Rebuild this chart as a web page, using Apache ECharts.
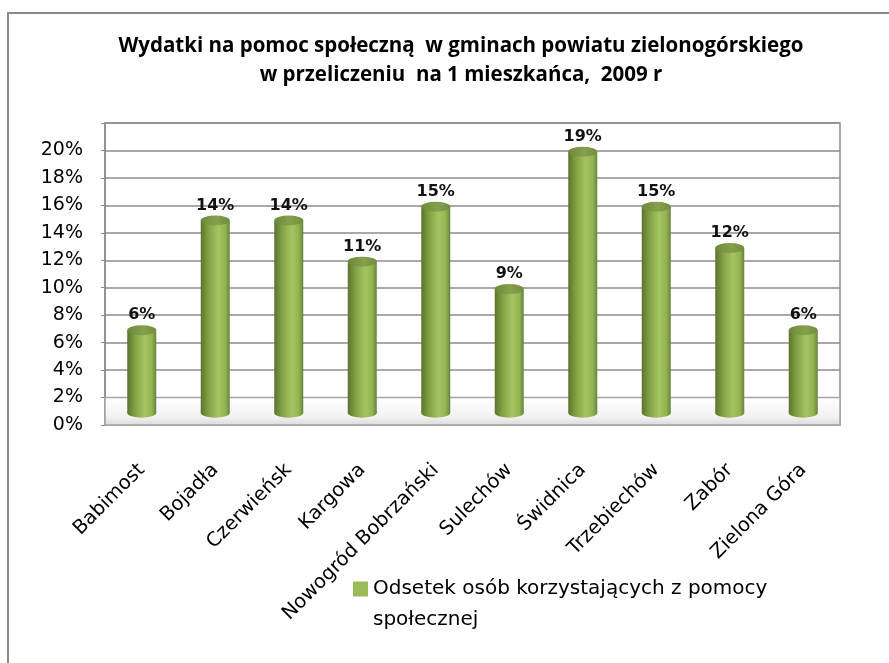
<!DOCTYPE html>
<html lang="pl">
<head>
  <meta charset="UTF-8">
  <title>Wydatki na pomoc społeczną</title>
  <script src="https://cdn.jsdelivr.net/npm/echarts@6/dist/echarts.min.js"></script>
  <style>
    html, body { margin: 0; padding: 0; background: #fff; }
    #chart { width: 889px; height: 663px; }
  </style>
</head>
<body>
  <div id="chart"></div>
  <script>
    // dane z wykresu
    const gminy = ['Babimost', 'Bojadła', 'Czerwieńsk', 'Kargowa', 'Nowogród Bobrzański',
      'Sulechów', 'Świdnica', 'Trzebiechów', 'Zabór', 'Zielona Góra'];
    const odsetek = [6, 14, 14, 11, 15, 9, 19, 15, 12, 6];
    const seriaNazwa = 'Odsetek osób korzystających z pomocy społecznej';
    const tytul = 'Wydatki na pomoc społeczną  w gminach powiatu zielonogórskiego\nw przeliczeniu  na 1 mieszkańca,  2009 r';

    const font = 'DejaVu Sans, sans-serif';
    const fontTitle = 'Open Sans, sans-serif';

    // gradient walca
    const cylinder = new echarts.graphic.LinearGradient(0, 0, 1, 0, [
      { offset: 0, color: '#5a742c' },
      { offset: 0.25, color: '#7f9f43' },
      { offset: 0.6, color: '#a5c563' },
      { offset: 0.85, color: '#93b351' },
      { offset: 1, color: '#66833a' }
    ]);

    const chart = echarts.init(document.getElementById('chart'));

    const option = {
      backgroundColor: '#fff',
      title: {
        text: tytul,
        left: 456,
        top: 27,
        textAlign: 'center',
        textStyle: {
          fontFamily: fontTitle,
          fontSize: 20.5,
          fontWeight: 'bold',
          color: '#000',
          lineHeight: 29
        }
      },
      legend: {
        data: [seriaNazwa],
        left: 353,
        top: 548,
        padding: 0,
        icon: 'rect',
        itemWidth: 15,
        itemHeight: 15,
        formatter: function (n) {
          const i = n.lastIndexOf(' ');
          return '{e| }\n{t|' + n.slice(0, i) + '}\n{t|' + n.slice(i + 1) + '}';
        },
        textStyle: {
          fontFamily: font,
          fontSize: 20,
          color: '#000',
          rich: {
            e: { fontSize: 20, lineHeight: 31 },
            t: { fontFamily: font, fontSize: 20, lineHeight: 31, color: '#000' }
          }
        }
      },
      grid: {
        left: 105,
        right: 49,
        top: 123,
        bottom: 238,
        show: true,
        borderColor: '#8c8c8c',
        borderWidth: 1.5
      },
      xAxis: {
        type: 'category',
        data: gminy,
        axisLine: { lineStyle: { color: '#9a9a9a', width: 1.5 } },
        axisTick: { length: 7, lineStyle: { color: '#9a9a9a' } },
        axisLabel: {
          rotate: 45,
          margin: 42,
          fontFamily: font,
          fontSize: 19.5,
          color: '#000'
        }
      },
      yAxis: [{
        type: 'value',
        min: 0,
        max: 22,
        interval: 2,
        axisLine: { show: true, lineStyle: { color: '#8c8c8c', width: 1.5 } },
        axisTick: { show: true, length: 4, lineStyle: { color: '#8c8c8c' } },
        splitLine: { lineStyle: { color: '#8c8c8c', width: 1.5 } },
        axisLabel: {
          fontFamily: font,
          fontSize: 19,
          color: '#000',
          margin: 22,
          padding: [7, 0, 0, 0],
          formatter: function (v) { return v > 20 ? '' : v + '%'; }
        }
      }, {
        // oś pomocnicza: walce stoją na "podłodze" wykresu 3D
        type: 'value',
        min: -0.9,
        max: 21.1,
        show: false,
        splitLine: { show: false }
      }],
      series: [{
        // kolor w legendzie + podłoga wykresu
        name: seriaNazwa,
        type: 'bar',
        yAxisIndex: 0,
        data: [],
        z: 0,
        itemStyle: { color: '#9bbb59' },
        markArea: {
          silent: true,
          itemStyle: {
            color: new echarts.graphic.LinearGradient(0, 0, 0, 1, [
              { offset: 0, color: '#ffffff' },
              { offset: 0.7, color: '#f2f2f2' },
              { offset: 1, color: '#d9d9d9' }
            ]),
            borderColor: '#a6a6a6',
            borderWidth: 1.5
          },
          data: [[{ yAxis: 0, x: 105 }, { yAxis: 2, x: 840 }]]
        }
      }, {
        name: seriaNazwa + ' (dół)',
        type: 'pictorialBar',
        yAxisIndex: 1,
        symbol: 'circle',
        symbolSize: [29, 10],
        symbolPosition: 'start',
        symbolOffset: [0, '50%'],
        itemStyle: { color: cylinder },
        z: 1,
        data: odsetek
      }, {
        name: seriaNazwa,
        type: 'bar',
        yAxisIndex: 1,
        barWidth: 29,
        itemStyle: { color: cylinder },
        label: {
          show: true,
          position: 'top',
          distance: 7,
          formatter: '{c}%',
          fontFamily: font,
          fontSize: 16,
          fontWeight: 'bold',
          color: '#111'
        },
        z: 2,
        data: odsetek
      }, {
        name: seriaNazwa + ' (góra)',
        type: 'pictorialBar',
        yAxisIndex: 1,
        symbol: 'circle',
        symbolSize: [29, 10],
        symbolPosition: 'end',
        symbolOffset: [0, '-50%'],
        itemStyle: {
          color: new echarts.graphic.LinearGradient(0, 0, 1, 0, [
            { offset: 0, color: '#6e883a' },
            { offset: 0.55, color: '#85a14c' },
            { offset: 1, color: '#728e3e' }
          ])
        },
        z: 3,
        data: odsetek
      }],
      graphic: [{
        type: 'polyline',
        shape: { points: [[8, 663], [8, 13], [889, 13]] },
        style: { stroke: '#8a8a8a', lineWidth: 2, fill: null },
        silent: true
      }]
    };

    chart.setOption(option);
  </script>
</body>
</html>
